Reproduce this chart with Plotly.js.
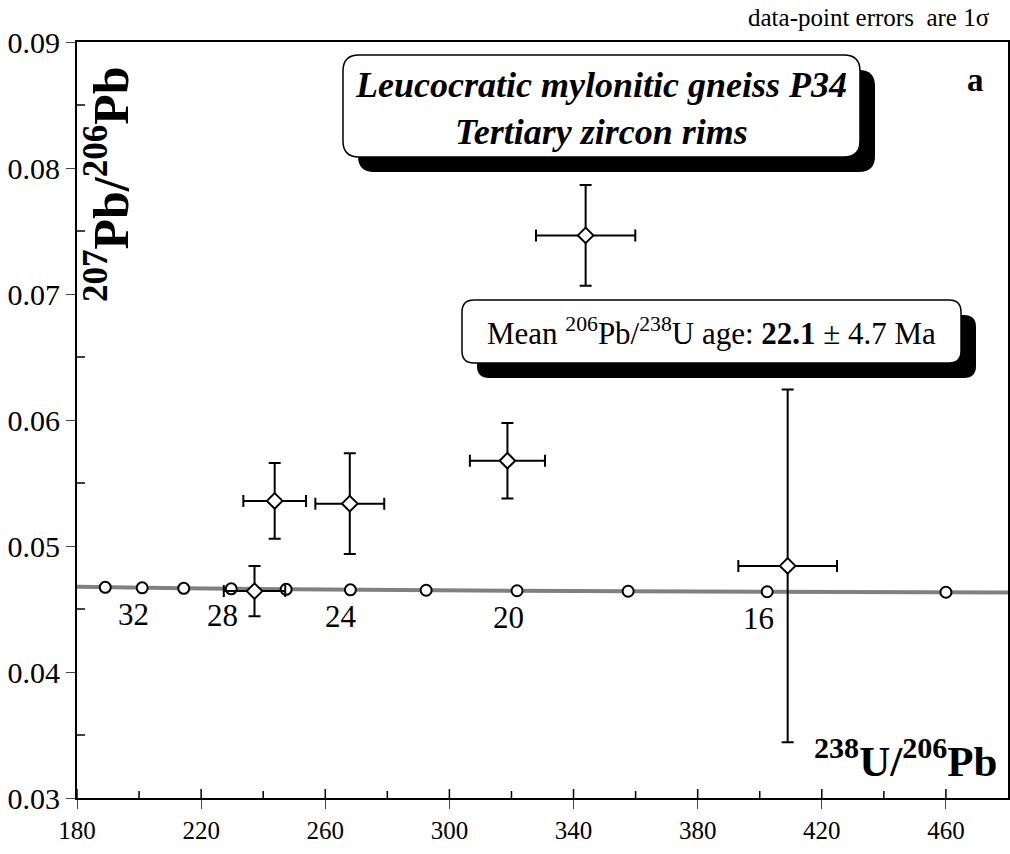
<!DOCTYPE html>
<html>
<head>
<meta charset="utf-8">
<script src="https://cdn.plot.ly/plotly-3.0.1.min.js"></script>
<style>html,body{margin:0;padding:0;background:#fff;}</style>
</head>
<body>
<div id="chart" style="width:1010px;height:854px;"></div>
<script>
// ---- data ----
const dataX  = [243.7, 267.9, 318.7, 237.2, 343.9, 409.0];
const dataY  = [0.05358, 0.05336, 0.05677, 0.04642, 0.07465, 0.04842];
const errX   = [10.1, 11.1, 12.1, 9.9, 16.0, 15.9];
const errY   = [0.0030, 0.0040, 0.0030, 0.0020, 0.0040, 0.0140];

// concordia age ticks (Ma)
const concAges = [34, 32, 30, 28, 26, 24, 22, 20, 18, 16, 14];
const concX    = [189.1, 201.0, 214.4, 229.7, 247.4, 268.1, 292.5, 321.8, 357.6, 402.4, 460.0];
const concY    = [0.04672, 0.04668, 0.04664, 0.04660, 0.04656, 0.04652, 0.04649, 0.04645, 0.04641, 0.04637, 0.04633];
// concordia curve across the whole frame
const curveX   = [180, 189.1, 201.0, 214.4, 229.7, 247.4, 268.1, 292.5, 321.8, 357.6, 402.4, 460.0, 480];
const curveY   = [0.04677, 0.04672, 0.04668, 0.04664, 0.04660, 0.04656, 0.04652, 0.04649, 0.04645, 0.04641, 0.04637, 0.04633, 0.04631];
const labelAges = [32, 28, 24, 20, 16];

const xTicks = [180, 220, 260, 300, 340, 380, 420, 460];
const xMinor = [200, 240, 280, 320, 360, 400, 440];
const yTicks = [0.03, 0.04, 0.05, 0.06, 0.07, 0.08, 0.09];
const yMinor = [0.035, 0.045, 0.055, 0.065, 0.075, 0.085];

// ---- geometry helpers (pixel -> paper) ----
const M = {l: 77, r: 2, t: 42, b: 56};
const W = 1010 - M.l - M.r, H = 854 - M.t - M.b;
const px = x => (x - M.l) / W;
const py = y => (854 - M.b - y) / H;
function rrect(x0, y0, x1, y1, r) {
  const P = (x, y) => px(x).toFixed(5) + ',' + py(y).toFixed(5);
  return 'M' + P(x0 + r, y0) + ' L' + P(x1 - r, y0) + ' Q' + P(x1, y0) + ' ' + P(x1, y0 + r) +
         ' L' + P(x1, y1 - r) + ' Q' + P(x1, y1) + ' ' + P(x1 - r, y1) +
         ' L' + P(x0 + r, y1) + ' Q' + P(x0, y1) + ' ' + P(x0, y1 - r) +
         ' L' + P(x0, y0 + r) + ' Q' + P(x0, y0) + ' ' + P(x0 + r, y0) + ' Z';
}

const FONT = 'Liberation Serif';

const traces = [
  {x: curveX, y: curveY, mode: 'lines', line: {color: '#808080', width: 4}, hoverinfo: 'skip', showlegend: false},
  {x: concX, y: concY, mode: 'markers', marker: {symbol: 'circle', size: 11, color: '#fff', line: {color: '#000', width: 2}}, showlegend: false},
  {x: dataX, y: dataY, mode: 'markers',
   marker: {symbol: 'diamond', size: 12, color: '#fff', line: {color: '#000', width: 2}},
   error_x: {type: 'data', array: errX, color: '#000', thickness: 2, width: 6},
   error_y: {type: 'data', array: errY, color: '#000', thickness: 2, width: 6},
   showlegend: false}
];

const annotations = [];
labelAges.forEach(a => {
  const i = concAges.indexOf(a);
  annotations.push({x: concX[i], y: concY[i], xref: 'x', yref: 'y', text: String(a), showarrow: false,
    xanchor: 'center', yanchor: 'middle',
    xshift: -9, yshift: -27, font: {family: FONT, size: 31, color: '#000'}});
});
annotations.push(
  {xref: 'paper', yref: 'paper', x: px(601), y: py(108), xanchor: 'center', yanchor: 'middle',
   text: '<b><i>Leucocratic mylonitic gneiss P34<br>Tertiary zircon rims</i></b>',
   showarrow: false, font: {family: FONT, size: 36, color: '#000'}, align: 'center'},
  {xref: 'paper', yref: 'paper', x: px(711), y: py(331), xanchor: 'center', yanchor: 'middle',
   text: 'Mean <sup>206</sup>Pb/<sup>238</sup>U age: <b>22.1</b> ± 4.7 Ma',
   showarrow: false, font: {family: FONT, size: 31, color: '#000'}},
  {xref: 'paper', yref: 'paper', x: px(975), y: py(80), xanchor: 'center', yanchor: 'middle', text: '<b>a</b>', showarrow: false,
   font: {family: FONT, size: 33, color: '#000'}},
  {xref: 'paper', yref: 'paper', x: px(992), y: py(17), xanchor: 'right', yanchor: 'middle', text: 'data-point errors  are 1σ', showarrow: false,
   font: {family: FONT, size: 25, color: '#000'}},
  {xref: 'paper', yref: 'paper', x: px(108), y: py(184), xanchor: 'center', yanchor: 'middle',
   text: '<b><sup>207</sup>Pb/<sup>206</sup>Pb</b>', textangle: -90, showarrow: false,
   font: {family: FONT, size: 50, color: '#000'}},
  {xref: 'paper', yref: 'paper', x: px(999), y: py(758), xanchor: 'right', yanchor: 'middle',
   text: '<b><sup>238</sup>U/<sup>206</sup>Pb</b>', showarrow: false,
   font: {family: FONT, size: 43, color: '#000'}}
);

const shapes = [
  {type: 'path', xref: 'paper', yref: 'paper', path: rrect(358, 70, 875, 172, 16), fillcolor: '#000', line: {width: 0}, layer: 'above'},
  {type: 'path', xref: 'paper', yref: 'paper', path: rrect(343, 55, 860, 157, 16), fillcolor: '#fff', line: {color: '#000', width: 1.5}, layer: 'above'},
  {type: 'path', xref: 'paper', yref: 'paper', path: rrect(477, 315, 976, 378, 12), fillcolor: '#000', line: {width: 0}, layer: 'above'},
  {type: 'path', xref: 'paper', yref: 'paper', path: rrect(462, 300, 961, 363, 12), fillcolor: '#fff', line: {color: '#000', width: 1.5}, layer: 'above'}
];
// inner halves of the major x ticks and inner minor ticks, taken from the tick arrays
xTicks.forEach(v => shapes.push({type: 'line', xref: 'x', yref: 'paper', x0: v, x1: v, y0: 0, y1: 9 / H, line: {color: '#000', width: 1.5}}));
xMinor.forEach(v => shapes.push({type: 'line', xref: 'x', yref: 'paper', x0: v, x1: v, y0: 0, y1: 7 / H, line: {color: '#000', width: 1.5}}));
yMinor.forEach(v => shapes.push({type: 'line', xref: 'paper', yref: 'y', x0: 0, x1: 8 / W, y0: v, y1: v, line: {color: '#000', width: 1.5}}));

const layout = {
  width: 1010, height: 854,
  margin: M,
  font: {family: FONT, color: '#000', size: 25},
  showlegend: false,
  xaxis: {range: [180, 480], tickmode: 'array', tickvals: xTicks,
    tickfont: {family: FONT, size: 25, color: '#000'},
    showline: true, linecolor: '#000', linewidth: 2, mirror: true, ticks: 'outside', ticklen: 9,
    showgrid: false, zeroline: false},
  yaxis: {range: [0.03, 0.09], tickmode: 'array', tickvals: yTicks, ticktext: yTicks.map(v => v.toFixed(2)),
    tickfont: {family: FONT, size: 30, color: '#000'},
    showline: true, linecolor: '#000', linewidth: 2, mirror: true, ticks: 'outside', ticklen: 9,
    showgrid: false, zeroline: false},
  annotations: annotations,
  shapes: shapes
};

function forceSerif() {
  document.querySelectorAll('#chart .xtick text, #chart .ytick text').forEach(el => {
    el.style.setProperty('font-family', '"Liberation Serif", serif', 'important');
  });
}
Plotly.newPlot('chart', traces, layout, {staticPlot: true}).then(gd => {
  forceSerif();
  gd.on && gd.on('plotly_afterplot', forceSerif);
});
</script>
</body>
</html>
